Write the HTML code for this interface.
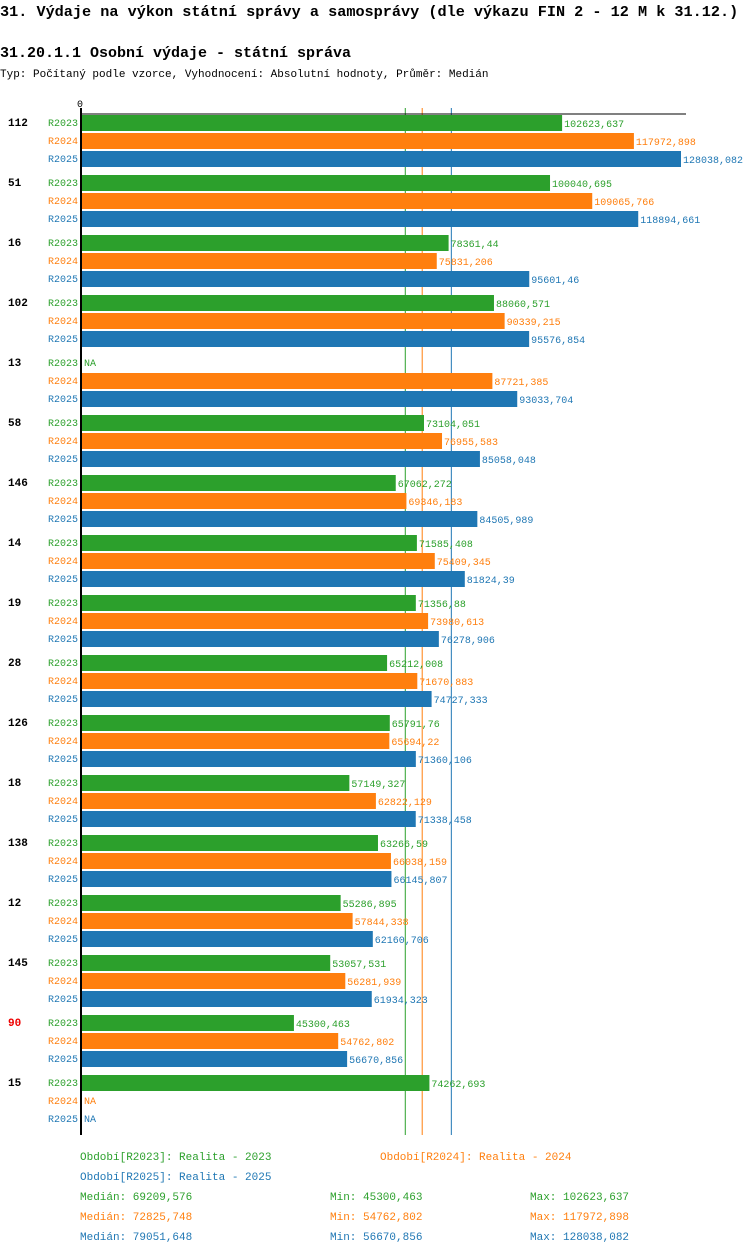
<!DOCTYPE html>
<html><head><meta charset="utf-8"><style>
body{margin:0;background:#fff;}
svg{display:block;font-family:"Liberation Mono",monospace;}
</style></head><body>
<svg id="c" width="750" height="1254" xmlns="http://www.w3.org/2000/svg">
<text x="0" y="16" font-size="15.2" font-weight="bold">31. Výdaje na výkon státní správy a samosprávy (dle výkazu FIN 2 - 12 M k 31.12.)</text>
<text x="0" y="57" font-size="15" font-weight="bold">31.20.1.1 Osobní výdaje - státní správa</text>
<text x="0" y="77" font-size="11">Typ: Počítaný podle vzorce, Vyhodnocení: Absolutní hodnoty, Průměr: Medián</text>
<text x="77" y="107" font-size="10">0</text>
<g id="medians"></g>
<g id="bars"></g>
<line x1="80" y1="114" x2="686" y2="114" stroke="#000" stroke-width="1"/>
<line x1="81" y1="108" x2="81" y2="1135" stroke="#000" stroke-width="2"/>
<g font-size="11">
<text x="80" y="1160" fill="#2ca02c">Období[R2023]: Realita - 2023</text>
<text x="380" y="1160" fill="#ff7f0e">Období[R2024]: Realita - 2024</text>
<text x="80" y="1180" fill="#1f77b4">Období[R2025]: Realita - 2025</text>
<text x="80" y="1200" fill="#2ca02c">Medián: 69209,576</text><text x="330" y="1200" fill="#2ca02c">Min: 45300,463</text><text x="530" y="1200" fill="#2ca02c">Max: 102623,637</text>
<text x="80" y="1220" fill="#ff7f0e">Medián: 72825,748</text><text x="330" y="1220" fill="#ff7f0e">Min: 54762,802</text><text x="530" y="1220" fill="#ff7f0e">Max: 117972,898</text>
<text x="80" y="1240" fill="#1f77b4">Medián: 79051,648</text><text x="330" y="1240" fill="#1f77b4">Min: 56670,856</text><text x="530" y="1240" fill="#1f77b4">Max: 128038,082</text>
</g>
</svg>
<script>
const categories=["112","51","16","102","13","58","146","14","19","28","126","18","138","12","145","90","15"];
const r2023=[102623.637,100040.695,78361.44,88060.571,null,73104.051,67062.272,71585.408,71356.88,65212.008,65791.76,57149.327,63266.59,55286.895,53057.531,45300.463,74262.693];
const r2024=[117972.898,109065.766,75831.206,90339.215,87721.385,76955.583,69346.183,75409.345,73980.613,71670.883,65694.22,62822.129,66038.159,57844.338,56281.939,54762.802,null];
const r2025=[128038.082,118894.661,95601.46,95576.854,93033.704,85058.048,84505.989,81824.39,76278.906,74727.333,71360.106,71338.458,66145.807,62160.706,61934.323,56670.856,null];
const seriesNames=["R2023","R2024","R2025"];
const medians=[69209.576,72825.748,79051.648];
const colors=["#2ca02c","#ff7f0e","#1f77b4"];
const NS="http://www.w3.org/2000/svg";
const g=document.getElementById('bars');
const gm=document.getElementById('medians');
const x0=82, k=599/128038.082;
const xs=v=>x0+v*k;
function fmt(v){return String(v).replace('.',',');}
function mk(t,a){const e=document.createElementNS(NS,t);for(const n in a)e.setAttribute(n,a[n]);return e;}
const series=[r2023,r2024,r2025];
medians.forEach((m,j)=>{
  const l=mk('line',{x1:xs(m)-0.5,x2:xs(m)-0.5,y1:108,y2:1135,stroke:colors[j],'stroke-width':1});
  
  
  gm.appendChild(l);
});
categories.forEach((c,i)=>{
  const gy=115+i*60;
  const t=mk('text',{x:8,y:gy+11,'font-size':11,'font-weight':'bold',fill:c==="90"?"#e00":"#000"});
  t.textContent=c;
  
  
  g.appendChild(t);
  series.forEach((s,j)=>{
    const y=gy+j*18;
    const l=mk('text',{x:78,y:y+11,'font-size':10,fill:colors[j],'text-anchor':'end'});
    l.textContent=seriesNames[j];
    
    
    g.appendChild(l);
    const v=s[i];
    if(v==null){
      const n=mk('text',{x:84,y:y+11,'font-size':10,fill:colors[j]});n.textContent="NA";
      
      
      g.appendChild(n);return;
    }
    const r=mk('rect',{x:x0,y:y,width:xs(v)-x0,height:16,fill:colors[j]});
    
    
    g.appendChild(r);
    const vt=mk('text',{x:xs(v)+2,y:y+12,'font-size':10,fill:colors[j]});vt.textContent=fmt(v);
    
    
    g.appendChild(vt);
  });
});
</script>
</body></html>
